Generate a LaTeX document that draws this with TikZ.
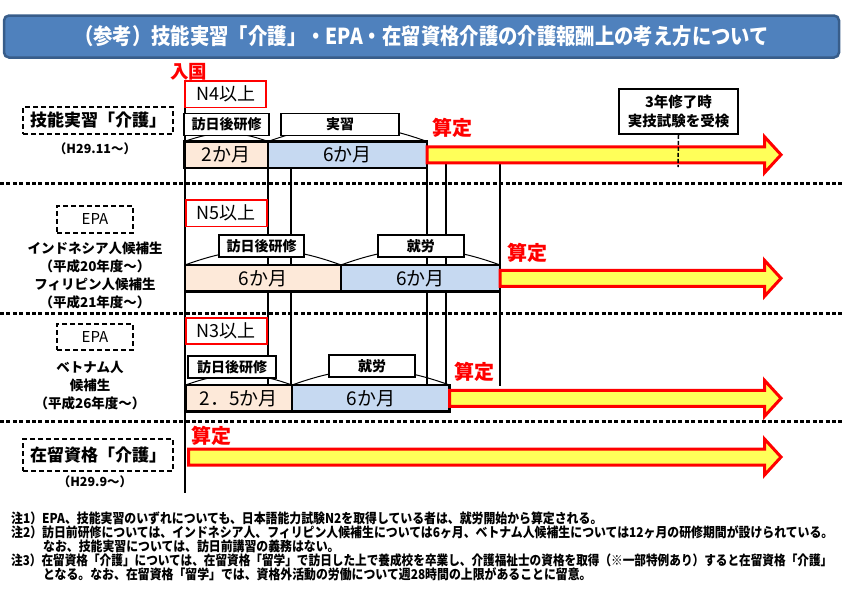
\documentclass[tikz,border=0pt]{standalone}
\usepackage{graphicx}
\usepackage{fontspec}
\setmainfont{Noto Sans CJK JP}
\usetikzlibrary{positioning}
\definecolor{peach}{HTML}{FDE9D9}
\definecolor{paleblue}{HTML}{C6D9F1}
\definecolor{santeiyellow}{HTML}{FFFF59}
\definecolor{titleblue}{HTML}{4F81BD}
\definecolor{titleedge}{HTML}{385D8A}
\newcommand{\fsz}[1]{\fontsize{#1}{#1}\selectfont}
\newcommand{\narrow}[2][0.88]{\scalebox{#1}[1]{#2}}
\tikzset{
  monthbar/.style={draw, line width=2.4pt, outer sep=0pt, inner sep=0pt, minimum height=26.5pt, font=\fsz{19}},
  lbl/.style={draw, fill=white, line width=1.8pt, inner sep=0pt, minimum height=22pt, font=\bfseries\fsz{14}},
  jlpt/.style={draw=red, fill=white, line width=1.8pt, inner sep=0pt, minimum width=81pt, minimum height=26.5pt, font=\fsz{18}},
  kindtag/.style={draw, line width=1.4pt, dash pattern=on 5pt off 3pt, inner sep=0pt},
  santei/.style={text=red, inner sep=0pt, font=\bfseries\fsz{20}},
  rowsep/.style={line width=3pt, dash pattern=on 4pt off 2.4pt},
  vline/.style={line width=1.3pt},
  arcspan/.style={line width=1pt, bend left=20},
  santeiarrow/.style={draw=red, fill=santeiyellow, line width=3pt},
  note/.style={anchor=west, inner sep=0pt, font=\bfseries\fsz{13.5}},
}
\begin{document}
\begin{tikzpicture}[x=1pt,y=-1pt]
\useasboundingbox (0,0) rectangle (842,595);
% title
\node[draw=titleedge, fill=titleblue, line width=2.5pt, rounded corners=5pt, minimum width=835pt, minimum height=42pt, inner sep=0pt] (title) at (421.5,36.5)
  {\narrow{\color{white}\bfseries\fsz{22}（参考）技能実習「介護」・EPA・在留資格介護の介護報酬上の考え方について}};
% guide lines
\draw[vline] (185,93) -- (185,493);
\draw[vline] (268,141) -- (268,386);
\draw[vline] (291,168) -- (291,411);
\draw[vline] (427,168) -- (427,386);
\draw[vline] (446,164) -- (446,386);
\draw[vline] (500,164) -- (500,386);
\foreach \ys in {183,313,421}
  \draw[rowsep] (0,\ys) -- (842,\ys);
% 技能実習
\node[text=red, inner sep=0pt, font=\bfseries\fsz{18.5}] (entry) at (188.5,71.5) {入国};
\node[jlpt] (n4) at (225.8,94.2) {N4以上};
\node[kindtag, minimum width=150pt, minimum height=27pt, font=\bfseries\fsz{17}] (kg) at (98,120.5) {技能実習「介護」};
\node[font=\bfseries\fsz{12.5}] (kgsince) at (95,149) {（H29.11～）};
\node[monthbar, fill=peach, anchor=west, minimum width=83.5pt] (kt1) at (184.5,154.75) {2か月};
\node[monthbar, fill=paleblue, minimum width=159pt, right=0pt of kt1] (kt2) {6か月};
\draw[arcspan] (kt1.north west) to (kt1.north east);
\draw[arcspan] (kt2.north west) to (kt2.north east);
\node[lbl, minimum width=85pt] (kt1lbl) at (226.5,124.5) {訪日後研修};
\node[lbl, minimum width=118pt] (kt2lbl) at (340,124.5) {実習};
\node[santei] (kts) at (452,128) {算定};
\node[draw, fill=white, line width=1.8pt, minimum width=119pt, minimum height=45pt, inner sep=0pt, align=center,
  font=\bfseries\fontsize{14.5}{18.5}\selectfont] (exam) at (678.5,111.5) {3年修了時\\実技試験を受検};
% EPA インドネシア・フィリピン
\node[jlpt] (n5) at (226.2,213.3) {N5以上};
\node[kindtag, minimum width=76pt, minimum height=27pt, font=\fsz{15}] (epa1) at (95,219.3) {EPA};
\node[align=center, font=\bfseries\fontsize{13.5}{18.1}\selectfont] (idwho) at (95,275.5)
  {インドネシア人候補生\\（平成20年度～）\\フィリピン人候補生\\（平成21年度～）};
\node[monthbar, fill=peach, anchor=west, minimum width=156pt, minimum height=26.7pt] (id1) at (185,278.3) {6か月};
\node[monthbar, fill=paleblue, minimum width=159pt, minimum height=26.7pt, right=0pt of id1] (id2) {6か月};
\draw[arcspan] (id1.north west) to (id1.north east);
\draw[arcspan] (id2.north west) to (id2.north east);
\node[lbl, minimum width=85pt] (id1lbl) at (261.5,246.3) {訪日後研修};
\node[lbl, minimum width=86pt] (id2lbl) at (420.8,245.8) {就労};
\node[santei] (ids) at (527.5,253) {算定};
% EPA ベトナム
\node[jlpt] (n3) at (226.3,331) {N3以上};
\node[kindtag, minimum width=76pt, minimum height=26pt, font=\fsz{15}] (epa2) at (95,337) {EPA};
\node[align=center, font=\bfseries\fontsize{13.5}{18}\selectfont] (vnwho) at (90,386)
  {ベトナム人\\候補生\\（平成26年度～）};
\node[monthbar, fill=peach, anchor=west, minimum width=106.5pt] (vn1) at (185.5,398.3) {2．5か月};
\node[monthbar, fill=paleblue, minimum width=157.5pt, right=0pt of vn1] (vn2) {6か月};
\draw[arcspan] (vn1.north west) to (vn1.north east);
\draw[arcspan] (vn2.north west) to (vn2.north east);
\node[lbl, minimum width=88pt] (vn1lbl) at (232,366.7) {訪日後研修};
\node[lbl, minimum width=86pt] (vn2lbl) at (372,365.8) {就労};
\node[santei] (vns) at (474.5,371.7) {算定};
% 在留資格
\node[kindtag, minimum width=150pt, minimum height=32pt, font=\bfseries\fsz{17}] (zr) at (98,455) {在留資格「介護」};
\node[font=\bfseries\fsz{12.5}] (zrsince) at (95,482) {（H29.9～）};
\node[santei] (zrs) at (211,436) {算定};
\coordinate (zr0) at (188.5,457);
% 算定 arrows
\coordinate (headx) at (764.5,0);
\coordinate (tipx) at (781,0);
\foreach \s in {kt2.east, id2.east, vn2.east, zr0}
  \draw[santeiarrow] ([yshift=8pt]\s) -- ([yshift=8pt]\s -| headx) -- ([yshift=18pt]\s -| headx)
    -- (\s -| tipx) -- ([yshift=-18pt]\s -| headx) -- ([yshift=-8pt]\s -| headx) -- ([yshift=-8pt]\s) -- cycle;
\draw[line width=1.5pt, dash pattern=on 4pt off 2pt] (exam.south) -- (678,167);
% notes
\node[note] (note1) at (11,518.5) {\narrow{注1）EPA、技能実習のいずれについても、日本語能力試験N2を取得している者は、就労開始から算定される。}};
\node[note] (note2) at (11,532.5) {\narrow{注2）訪日前研修については、インドネシア人、フィリピン人候補生については6ヶ月、ベトナム人候補生については12ヶ月の研修期間が設けられている。}};
\node[note] (note2b) at (43,546.5) {\narrow{なお、技能実習については、訪日前講習の義務はない。}};
\node[note] (note3) at (11,560.5) {\narrow[0.862]{注3）在留資格「介護」については、在留資格「留学」で訪日した上で養成校を卒業し、介護福祉士の資格を取得（※一部特例あり）すると在留資格「介護」}};
\node[note] (note3b) at (43,574.5) {\narrow{となる。なお、在留資格「留学」では、資格外活動の労働について週28時間の上限があることに留意。}};
\end{tikzpicture}
\end{document}
